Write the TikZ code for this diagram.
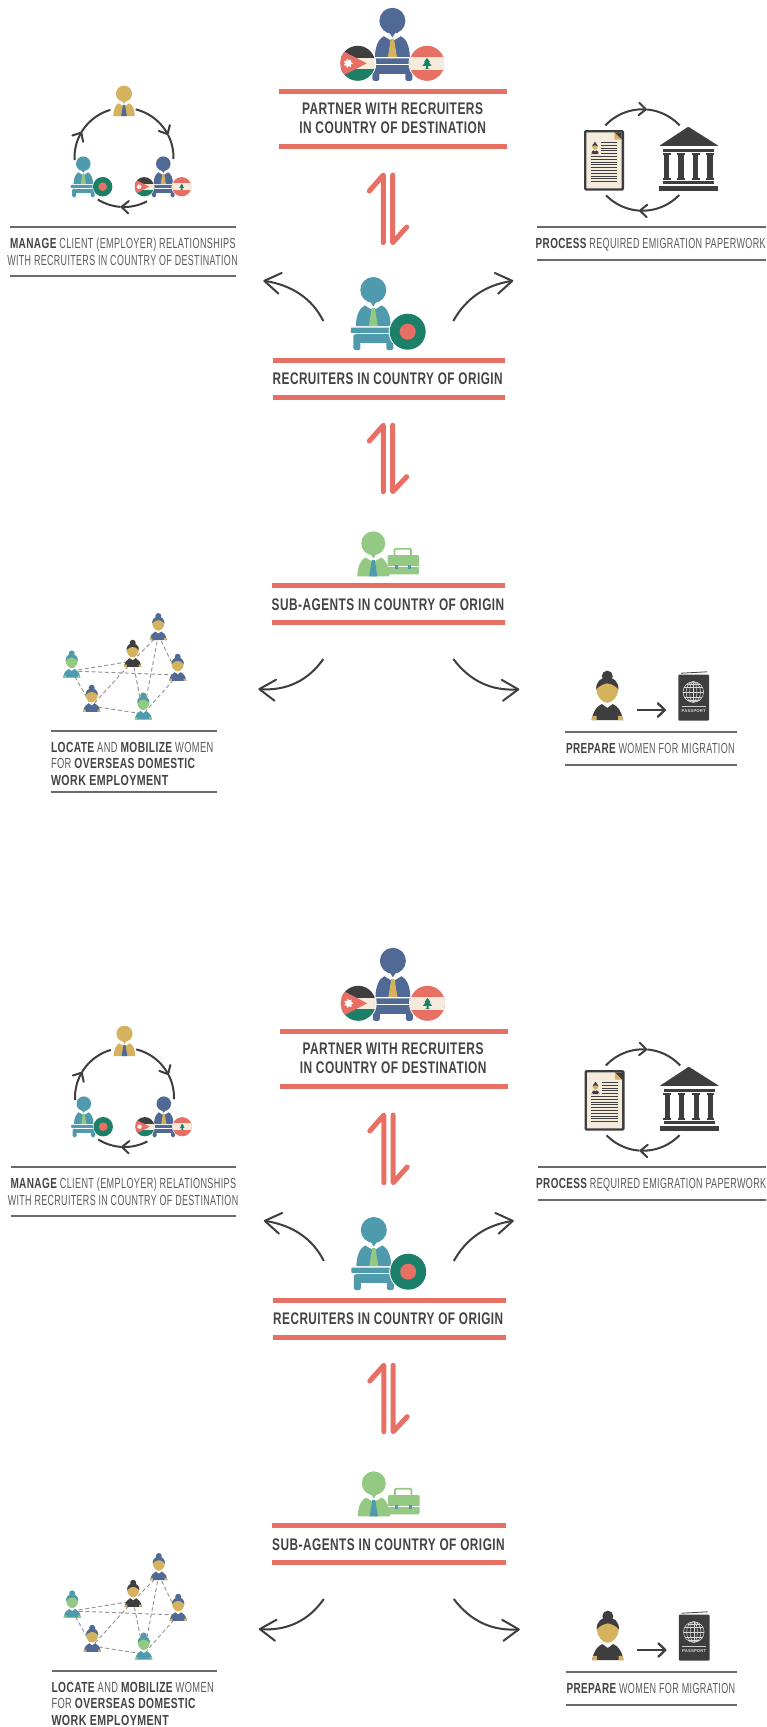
\documentclass[tikz,border=0pt]{standalone}
\usepackage{fontspec}
\usepackage{graphicx}
\setmainfont[LetterSpace=4]{Liberation Sans}
\usetikzlibrary{arrows.meta,calc}
\definecolor{cblue}{HTML}{506A95}
\definecolor{cteal}{HTML}{4F9BAD}
\definecolor{cgreen}{HTML}{93C983}
\definecolor{cyellow}{HTML}{D4B25E}
\definecolor{cdark}{HTML}{3E3E3E}
\definecolor{csalmon}{HTML}{E86F63}
\definecolor{cflag}{HTML}{1C8069}
\definecolor{ccream}{HTML}{F5EBDD}
\definecolor{crule}{HTML}{6A6A6A}
\definecolor{ctext}{HTML}{5A5A5A}
\definecolor{cbold}{HTML}{444444}
\newlength\fitlen
\newcommand\fitw[2]{\settowidth\fitlen{#2}\pgfmathsetmacro\fitf{#1/\fitlen}\scalebox{\fitf}[1]{#2}}
\newcommand\B[1]{\scalebox{1.1}[1]{\bfseries\color{cbold}#1}}
\tikzset{
  redrule/.style={draw=csalmon,line width=5pt},
  grayrule/.style={draw=crule,line width=1.7pt},
  hdr/.style={anchor=west,inner sep=0pt,outer sep=0pt,text height=12.2pt,text depth=0pt,text=cbold,font=\fontsize{16.8}{17}\selectfont\bfseries},
  sub/.style={anchor=west,inner sep=0pt,outer sep=0pt,text height=10.6pt,text depth=0pt,text=ctext,font=\fontsize{14.6}{15}\selectfont},
  flowarrow/.style={draw=cdark,line width=2pt,-{Straight Barb[length=16pt,width=21pt,round]}},
  cyclearc/.style={draw=cdark,line width=2pt},
  cyclearrow/.style={draw=cdark,line width=2pt,-{Straight Barb[length=7pt,width=12.5pt,round]}},
  link/.style={draw=gray!85,line width=.9pt,dash pattern=on 4pt off 2.6pt},
  bothways/.style={draw=csalmon,line width=5pt,line cap=round,line join=round},
}
% upper body of a person; head at x,y, head radius 13*s
\newcommand\personBody[5]{%
 \begin{scope}[shift={(#1,#2)},scale=#3]
  \fill[#4] (-17.5,36) .. controls (-17,25) and (-14,18) .. (-8,15) -- (8,15) .. controls (14,18) and (17,25) .. (17.5,36) -- cycle;
  \fill[white] (-8.5,15.3) -- (-3,12) -- (3,12) -- (8.5,15.3) -- (1.5,19.5) -- (-1.5,19.5) -- cycle;
  \fill[#4] (-3.5,11) -- (3.5,11) -- (0,16.5) -- cycle;
  \fill[#4] (0,0) circle (13);
  \fill[#5] (-1.6,18) -- (1.6,18) -- (4.5,36) -- (-4.5,36) -- cycle;
 \end{scope}}
\newcommand\personDesk[5]{%
 \personBody{#1}{#2}{#3}{#4}{#5}%
 \begin{scope}[shift={(#1,#2)},scale=#3]
  \fill[#4,rounded corners=.8] (-22.5,37.6) rectangle (21,43);
  \fill[#4] (-17,44.3) rectangle (17,53);
  \fill[#4,rounded corners=1.5] (-20,44.3) rectangle (-13,60);
  \fill[#4,rounded corners=1.5] (13,44.3) rectangle (20,60);
 \end{scope}}
\newcommand\flagB[3]{%
 \begin{scope}[shift={(#1,#2)},scale=#3]
  \fill[white] (0,0) circle (19);
  \fill[cflag] (0,0) circle (18);
  \fill[csalmon] (0,0) circle (8);
 \end{scope}}
\newcommand\flagJ[3]{%
 \begin{scope}[shift={(#1,#2)},scale=#3]
  \fill[white] (0,0) circle (18.5);
  \begin{scope}
   \clip (0,0) circle (17.5);
   \fill[ccream] (-18,-18) rectangle (18,18);
   \fill[cdark] (-18,-18) rectangle (18,-5.8);
   \fill[cflag] (-18,5.8) rectangle (18,18);
   \fill[csalmon] (-18,-14) -- (9,0) -- (-18,14) -- cycle;
   \fill[white] (-4.6,0) \foreach \i in {1,...,13}{ -- ({-9.6+(4.8-1.9*mod(\i,2))*cos(\i*360/14)},{(4.8-1.9*mod(\i,2))*sin(\i*360/14)}) } -- cycle;
  \end{scope}
 \end{scope}}
\newcommand\flagL[3]{%
 \begin{scope}[shift={(#1,#2)},scale=#3]
  \fill[white] (0,0) circle (18.5);
  \begin{scope}
   \clip (0,0) circle (17.5);
   \fill[csalmon] (-18,-18) rectangle (18,18);
   \fill[ccream] (-18,-6.6) rectangle (18,6.6);
  \end{scope}
  \fill[cflag] (0,-5.5) -- (3,-1.2) -- (1.8,-1.2) -- (4.6,2.6) -- (1,2.6) -- (1,5) -- (3,5.8) -- (-3,5.8) -- (-1,5) -- (-1,2.6) -- (-4.6,2.6) -- (-1.8,-1.2) -- (-3,-1.2) -- cycle;
 \end{scope}}
% woman; head at x,y, head half width 11*s
\newcommand\woman[6]{%
 \begin{scope}[shift={(#1,#2)},scale=#3]
  \fill[#6] (-15.7,30.7) .. controls (-14,22) and (-11,17) .. (-5,14.5) -- (5,14.5) .. controls (11,17) and (14,22) .. (15.7,30.7) -- cycle;
  \fill[#5] (-15.7,30.7) -- (-14.6,26.5) -- (-10.8,26.5) -- (-10.8,30.7) -- cycle;
  \fill[#5] (15.7,30.7) -- (14.6,26.5) -- (10.8,26.5) -- (10.8,30.7) -- cycle;
  \fill[white] (-5.5,14.5) -- (-3,11) -- (3,11) -- (5.5,14.5) -- (0,18.5) -- cycle;
  \fill[#5] (-11,0) .. controls (-11,-7) and (-6,-11) .. (0,-11) .. controls (6,-11) and (11,-7) .. (11,0) .. controls (11,7) and (5,13.5) .. (0,13.5) .. controls (-5,13.5) and (-11,7) .. (-11,0) -- cycle;
  \fill[#4] (0,-13.2) circle (5.5);
  \fill[#4] (-11.2,0) .. controls (-11.2,-8) and (-6,-12) .. (0,-12) .. controls (6,-12) and (11.2,-8) .. (11.2,0) .. controls (8,-3.5) and (4,-5.5) .. (0,-6) .. controls (-4,-5.5) and (-8,-3.5) .. (-11.2,0) -- cycle;
 \end{scope}}
% one complete panel; #1 is the prefix of its node names
\newcommand\panel[1]{%
 % ---- top: partner
 \personDesk{392.4}{20.8}{1}{cblue}{cyellow}
 \flagJ{357.7}{63.3}{1}\flagL{427}{63.3}{1}
 \draw[redrule] (279,91) -- (507,91);
 \node[hdr] (#1-partner1) at (302,108.4) {\fitw{181}{PARTNER WITH RECRUITERS}};
 \node[hdr] (#1-partner2) at (299.3,127.2) {\fitw{186.7}{IN COUNTRY OF DESTINATION}};
 \draw[redrule] (279,146.7) -- (507,146.7);
 % ---- double arrows
 \draw[bothways] (383.3,242.7) -- (383.3,175) -- (369.3,191);
 \draw[bothways] (392.7,175) -- (392.7,242.7) -- (406.7,227);
 \draw[bothways] (383.3,491.7) -- (383.3,425.2) -- (369.3,441);
 \draw[bothways] (392.7,425.2) -- (392.7,491.7) -- (406.7,476.7);
 % ---- recruiters
 \personDesk{373.3}{290}{1}{cteal}{cgreen}
 \flagB{407.7}{331.7}{1}
 \draw[redrule] (272.7,360.7) -- (505.3,360.7);
 \node[hdr] (#1-recruiters) at (272.7,378.7) {\fitw{230}{RECRUITERS IN COUNTRY OF ORIGIN}};
 \draw[redrule] (272.7,397.7) -- (505.3,397.7);
 % ---- sub-agents
 \personBody{373.3}{543.3}{.92}{cgreen}{cteal}
 \fill[cgreen,rounded corners=1] (387.6,555) rectangle (419,574.4);
 \draw[cgreen,line width=1.8pt,rounded corners=1] (394.5,555) -- (394.5,548.8) -- (411,548.8) -- (411,555);
 \draw[white,line width=.8pt] (387.6,566.6) -- (419,566.6);
 \fill[cteal] (394.6,565) rectangle (397.6,569.4);
 \fill[cteal] (408,565) rectangle (411,569.4);
 \draw[redrule] (271.7,585.7) -- (505.3,585.7);
 \node[hdr] (#1-subagents) at (271.7,604) {\fitw{232.6}{SUB-AGENTS IN COUNTRY OF ORIGIN}};
 \draw[redrule] (271.7,622.7) -- (505.3,622.7);
 % ---- flow arrows
 \coordinate (#1-ra) at (323.3,321); \coordinate (#1-rb) at (263.3,280.7);
 \coordinate (#1-rc) at (453.3,321); \coordinate (#1-rd) at (513.3,280.7);
 \coordinate (#1-sa) at (323.3,659); \coordinate (#1-sb) at (258.3,689);
 \coordinate (#1-sc) at (453.3,659); \coordinate (#1-sd) at (519.3,689.3);
 \draw[flowarrow] (#1-ra) .. controls (312,298) and (291,285) .. (#1-rb);
 \draw[flowarrow] (#1-rc) .. controls (466,298) and (486,285) .. (#1-rd);
 \draw[flowarrow] (#1-sa) .. controls (308,681) and (286,691) .. (#1-sb);
 \draw[flowarrow] (#1-sc) .. controls (470,681) and (491,691) .. (#1-sd);
 % ---- manage icon
 \draw[cyclearrow] plot[domain=-76.3:-27,samples=24] ({124+49.5*cos(\x)},{157.5+49.5*sin(\x)});
 \draw[cyclearc] plot[domain=-27:2,samples=12] ({124+49.5*cos(\x)},{157.5+49.5*sin(\x)});
 \draw[cyclearrow] plot[domain=177:211.4,samples=14] ({124+49.5*cos(\x)},{157.5+49.5*sin(\x)});
 \draw[cyclearc] plot[domain=211:254,samples=16] ({124+49.5*cos(\x)},{157.5+49.5*sin(\x)});
 \draw[cyclearrow] plot[domain=62.4:94,samples=14] ({124+49.5*cos(\x)},{157.5+49.5*sin(\x)});
 \draw[cyclearc] plot[domain=94:122,samples=12] ({124+49.5*cos(\x)},{157.5+49.5*sin(\x)});
 \personBody{124}{93.7}{.62}{cyellow}{cblue}
 \personDesk{83.3}{163.7}{.56}{cteal}{cgreen}
 \flagB{102.7}{186.7}{.54}
 \personDesk{163.3}{163.7}{.56}{cblue}{cyellow}
 \flagJ{144.3}{186.7}{.55}\flagL{181.7}{186.7}{.55}
 \draw[grayrule] (10,226.7) -- (235.7,226.7);
 \node[sub] (#1-manage1) at (10,243.3) {\fitw{225.7}{\B{MANAGE} CLIENT (EMPLOYER) RELATIONSHIPS}};
 \node[sub] (#1-manage2) at (7.3,259.7) {\fitw{230.4}{WITH RECRUITERS IN COUNTRY OF DESTINATION}};
 \draw[grayrule] (10,275.7) -- (235.7,275.7);
 % ---- process icon
 \draw[cyclearrow] plot[domain=-137:-85,samples=20] ({642.5+50.7*cos(\x)},{160+50.7*sin(\x)});
 \draw[cyclearc] plot[domain=-85:-43,samples=16] ({642.5+50.7*cos(\x)},{160+50.7*sin(\x)});
 \draw[cyclearrow] plot[domain=43.8:94,samples=20] ({642.5+50.7*cos(\x)},{160+50.7*sin(\x)});
 \draw[cyclearc] plot[domain=94:136,samples=16] ({642.5+50.7*cos(\x)},{160+50.7*sin(\x)});
 \draw[cdark,fill=ccream,line width=2.4pt,rounded corners=1] (585.2,131.2) rectangle (622.8,189.5);
 \fill[cdark] (614.3,132.4) -- (621.6,132.4) -- (621.6,139.6) -- cycle;
 \fill[cyellow] (614.3,132.4) -- (614.3,139.6) -- (621.6,139.6) -- cycle;
 \foreach \yy in {142.4,145.2,148,150.8,153.5}{\draw[cdark,line width=.9pt] (601,\yy) -- (617.3,\yy);}
 \foreach \yy in {156.5,159.3,162.1,164.9,167.7,170.5,173.3,176.1,178.9,181.4}{\draw[cdark,line width=.9pt] (590.7,\yy) -- (617.3,\yy);}
 \woman{595}{146.5}{.25}{cdark}{cyellow}{cdark}
 \fill[cdark,rounded corners=.6] (688.3,126.7) -- (718.6,145.9) -- (659.2,145.9) -- cycle;
 \fill[cdark] (663.3,149) rectangle (714,152);
 \foreach \xx in {666.7,681,695.7,710}{%
  \fill[cdark] (\xx-2.6,153) rectangle (\xx+2.6,180);
  \fill[cdark] (\xx-3.8,153) rectangle (\xx+3.8,154.6);
  \fill[cdark] (\xx-3.8,178.2) rectangle (\xx+3.8,180);}
 \fill[cdark] (663.3,181) rectangle (714,184.4);
 \fill[cdark] (659,186) rectangle (718.3,190.7);
 \draw[grayrule] (537.3,226.7) -- (766,226.7);
 \node[sub] (#1-process) at (535.7,243.3) {\fitw{230}{\B{PROCESS} REQUIRED EMIGRATION PAPERWORK}};
 \draw[grayrule] (537.3,260) -- (766,260);
 % ---- network icon
 \coordinate (#1-wa) at (158.3,635); \coordinate (#1-wb) at (132.7,661);
 \coordinate (#1-wc) at (71.7,671); \coordinate (#1-wd) at (177.7,675);
 \coordinate (#1-we) at (91.7,706); \coordinate (#1-wf) at (143.3,714);
 \foreach \pa/\pb in {wb/wa,wc/wb,wc/wd,wc/we,wb/we,wb/wf,wa/wf,wa/wd,wd/wf,we/wf}{\draw[link] (#1-\pa) -- (#1-\pb);}
 \woman{158.3}{623.3}{.55}{cblue}{cyellow}{cblue}
 \woman{132.7}{650}{.55}{cdark}{cyellow}{cdark}
 \woman{71.7}{660.7}{.55}{cteal}{cgreen}{cteal}
 \woman{177.7}{664}{.55}{cblue}{cyellow}{cblue}
 \woman{91.7}{695}{.55}{cblue}{cyellow}{cblue}
 \woman{143.3}{702.7}{.55}{cteal}{cgreen}{cteal}
 \draw[grayrule] (51,731.3) -- (216.7,731.3);
 \node[sub] (#1-locate1) at (51,746.7) {\fitw{162.3}{\B{LOCATE} AND \B{MOBILIZE} WOMEN}};
 \node[sub] (#1-locate2) at (51,763) {\fitw{144}{FOR \B{OVERSEAS DOMESTIC}}};
 \node[sub] (#1-locate3) at (51,779.7) {\fitw{117.3}{\B{WORK EMPLOYMENT}}};
 \draw[grayrule] (51,792.3) -- (216.7,792.3);
 % ---- prepare icon
 \woman{607.3}{689.3}{1}{cdark}{cyellow}{cdark}
 \coordinate (#1-pa) at (636.7,710); \coordinate (#1-pb) at (666,710);
 \draw[draw=cdark,line width=2.3pt,-{Straight Barb[length=7pt,width=13.4pt,round]}] (#1-pa) -- (#1-pb);
 \draw[cdark,line width=.8pt] (681,673.2) -- (707,671.8);
 \fill[cdark,rounded corners=1] (678.3,674.5) rectangle (709,720.7);
 \begin{scope}[draw=white!85!black,line width=.55pt]
  \draw (693.3,692) circle (10.3);
  \draw (693.3,692) ellipse [x radius=3.6,y radius=10.3];
  \draw (693.3,692) ellipse [x radius=7.2,y radius=10.3];
  \draw (693.3,681.7) -- (693.3,702.3);
  \draw (683,692) -- (703.6,692);
  \draw (684.3,687) -- (702.3,687);
  \draw (684.3,697) -- (702.3,697);
  \draw (687,683.9) -- (699.6,683.9);
  \draw (687,700.1) -- (699.6,700.1);
 \end{scope}
 \draw[white!80!black,line width=.7pt] (681.7,706) -- (705.7,706);
 \node[anchor=center,inner sep=0pt,text=white!85!black,font=\fontsize{4.2}{4.2}\selectfont\bfseries] (#1-passport) at (693.7,711.2) {\fitw{24}{PASSPORT}};
 \draw[grayrule] (565,732.3) -- (736.7,732.3);
 \node[sub] (#1-prepare) at (566,748) {\fitw{168.7}{\B{PREPARE} WOMEN FOR MIGRATION}};
 \draw[grayrule] (565,765) -- (736.7,765);
}
\begin{document}
\begin{tikzpicture}[x=1pt,y=-1pt]
 \useasboundingbox (0,0) rectangle (766,1727);
 \fill[white] (0,0) rectangle (766,1727);
 \clip (0,0) rectangle (766,1727);
 \panel{a}
 \begin{scope}[shift={(.5,940)}]
  \panel{b}
 \end{scope}
\end{tikzpicture}
\end{document}
